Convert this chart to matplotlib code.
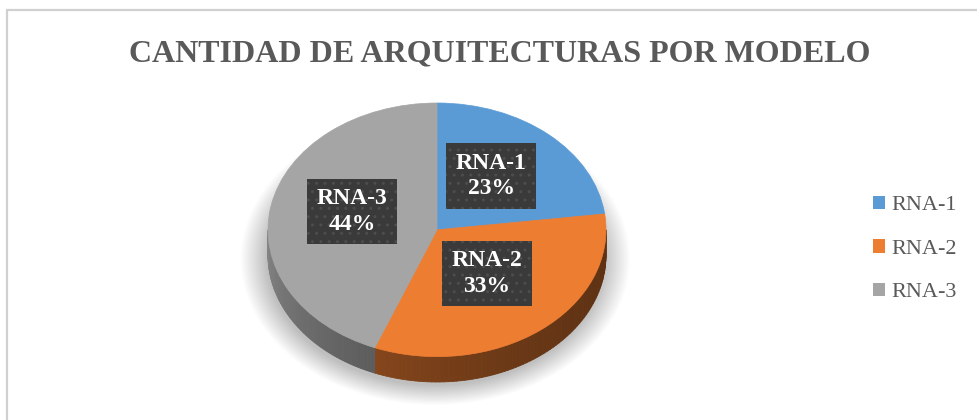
import numpy as np
import matplotlib
matplotlib.use("Agg")
import matplotlib.pyplot as plt
from matplotlib.patches import Wedge, Polygon, Rectangle, Patch, Ellipse

labels = ["RNA-1", "RNA-2", "RNA-3"]
shares = [23, 33, 44]
colors = ["#5b9bd5", "#ed7d31", "#a5a5a5"]
title = "CANTIDAD DE ARQUITECTURAS POR MODELO"

W, H = 978, 420
fig = plt.figure(figsize=(W / 100, H / 100), dpi=100)
fig.patch.set_facecolor("white")

# chart border (left and top edges visible)
fig.patches.append(Rectangle((7 / W, -0.05), 1.2, 1 - 10 / H + 0.05,
                             transform=fig.transFigure, fill=False,
                             edgecolor="#d0d0d0", lw=1.6))

fig.text(500 / W, 1 - 61 / H, title, ha="center", va="baseline",
         fontsize=23, fontweight="bold", color="#595959",
         family="Liberation Serif")

# pie axes: x in [-1,1], y in [-1-d, 1] -> ellipse
d = 0.2
left, right, top, bottom = 268, 606, 103, 382
ax = fig.add_axes([left / W, 1 - bottom / H, (right - left) / W, (bottom - top) / H])
ax.set_xlim(-1, 1)
ax.set_ylim(-1 - d, 1)
ax.axis("off")

# soft shadow
for k in range(16):
    s = 1.0 + k * 0.01
    ax.add_patch(Ellipse((-0.01, -d - 0.03), 2 * s, 2 * s, facecolor="black",
                         alpha=0.016, edgecolor="none", clip_on=False, zorder=0))

fr = np.array(shares) / sum(shares)
ends = np.cumsum(fr)
starts = ends - fr


def shade(c, f):
    rgb = np.array(matplotlib.colors.to_rgb(c))
    return tuple(np.clip(rgb * f, 0, 1))


# sides (front half: math angles -180..0)
for a, b, c in zip(starts, ends, colors):
    t1 = 90 - 360 * b
    t2 = 90 - 360 * a
    lo, hi = max(t1, -180), min(t2, 0)
    if hi <= lo:
        continue
    ts = np.linspace(lo, hi, 80)
    for t0, tt in zip(ts[:-1], ts[1:]):
        r0, r1 = np.radians(t0), np.radians(tt)
        tm = (t0 + tt) / 2 + 360
        f = 0.40 + 0.42 * ((360 - tm) / 180) ** 2
        pts = [(np.cos(r0), np.sin(r0)), (np.cos(r1), np.sin(r1)),
               (np.cos(r1), np.sin(r1) - d), (np.cos(r0), np.sin(r0) - d)]
        ax.add_patch(Polygon(pts, closed=True, facecolor=shade(c, f),
                             edgecolor=shade(c, f), lw=0.6, clip_on=False, zorder=1))

# top surface
for a, b, c in zip(starts, ends, colors):
    ax.add_patch(Wedge((0, 0), 1, 90 - 360 * b, 90 - 360 * a, facecolor=c,
                       edgecolor=c, lw=0.5, clip_on=False, zorder=2))

# data labels
for a, b, lab, v in zip(starts, ends, labels, shares):
    m = np.radians(90 - 360 * (a + b) / 2)
    ax.text(0.5 * np.cos(m) - 0.01, 0.5 * np.sin(m) + 0.05, f"{lab}\n{v}%",
            ha="center", va="center", fontsize=17, fontweight="bold",
            color="white", family="Liberation Serif", linespacing=1.3,
            zorder=5,
            bbox=dict(boxstyle="square,pad=0.4", facecolor="#3a3a3a",
                      edgecolor="#4d4d4d", hatch="..", lw=0))

handles = [Patch(facecolor=c, edgecolor="none") for c in colors]
leg = fig.legend(handles, labels, loc="center left",
                 bbox_to_anchor=(857 / W, 1 - 249 / H), frameon=False,
                 prop={"family": "Liberation Serif", "size": 16},
                 handlelength=0.55, handleheight=0.55, handletextpad=0.3,
                 labelspacing=1.08, borderpad=0.2)
for t in leg.get_texts():
    t.set_color("#595959")

fig.savefig("out.png", dpi=100, facecolor="white")
